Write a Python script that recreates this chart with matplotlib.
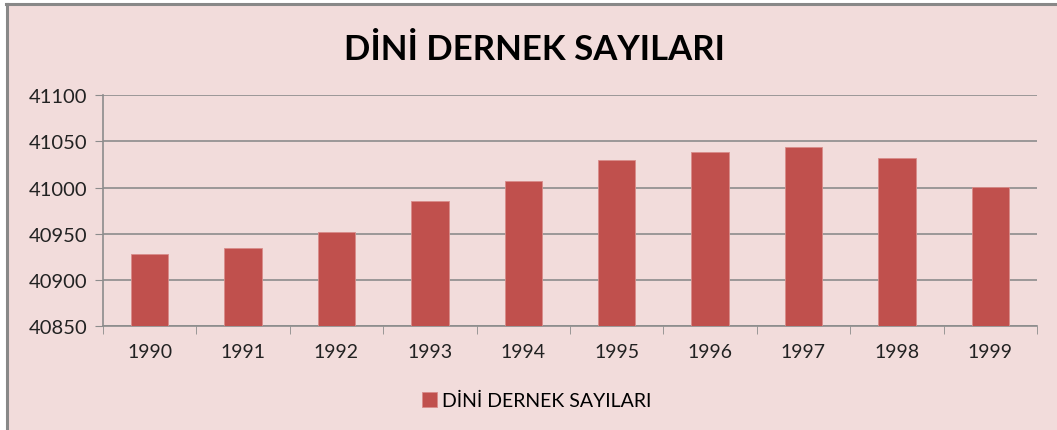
import numpy as np
from matplotlib import pyplot as plt
from matplotlib.patches import Rectangle

# data
years = ['1990', '1991', '1992', '1993', '1994', '1995', '1996', '1997', '1998', '1999']
counts = [40928, 40935, 40952, 40985, 41007, 41030, 41038, 41044, 41032, 41001]
seriesName = 'DİNİ DERNEK SAYILARI'

bg = '#f2dcdb'
barColor = '#c0504d'
gridColor = '#8c8c8c'

plt.rcParams['font.family'] = ['Lato', 'DejaVu Sans']

fig = plt.figure(figsize=(10.57, 4.31), dpi=100, facecolor='white')

# achtergrond (only left and top border visible, rest is cut off)
fig.patches.append(Rectangle((0.0066, 0), 1.0, 0.988, transform=fig.transFigure,
                             facecolor=bg, edgecolor='none', zorder=-2))
fig.add_artist(plt.Line2D([0.0066, 0.0066], [0, 0.988], transform=fig.transFigure,
                          color='#888888', linewidth=2.2))
fig.add_artist(plt.Line2D([0.0056, 1.0], [0.988, 0.988], transform=fig.transFigure,
                          color='#888888', linewidth=2.2))

ax = fig.add_axes([0.0974, 0.2406, 0.8836, 0.5366])
ax.set_facecolor(bg)

x = np.arange(len(years))
ax.bar(x, counts, width=0.4, color=barColor, edgecolor='#d98c8a', linewidth=0.6,
       label=seriesName, zorder=3)

ax.set_ylim(40850, 41100)
ax.set_yticks(np.arange(40850, 41101, 50))
ax.set_xlim(-0.5, len(years) - 0.5)
ax.set_xticks(x)
ax.set_xticklabels(years)
ax.set_xticks(np.arange(-0.5, len(years), 1), minor=True)
ax.tick_params(axis='x', which='major', length=0, pad=12, labelsize=14, colors='#222222')
ax.tick_params(axis='x', which='minor', length=6, color=gridColor, direction='out')
ax.tick_params(axis='y', length=6, color=gridColor, labelsize=14.5, labelcolor='#222222', pad=5)

ax.grid(axis='y', color=gridColor, linewidth=1.2, zorder=0)
for s in ['top', 'right']:
    ax.spines[s].set_visible(False)
for s in ['left', 'bottom']:
    ax.spines[s].set_color(gridColor)
    ax.spines[s].set_linewidth(1.2)

fig.text(0.506, 0.885, seriesName, ha='center', va='center', fontsize=25, fontweight='bold')

fig.legend(loc='center', bbox_to_anchor=(0.508, 0.068), frameon=False, fontsize=14,
           handlelength=0.75, handleheight=0.75, handletextpad=0.3)

fig.savefig('out.png', dpi=100, facecolor='white')
